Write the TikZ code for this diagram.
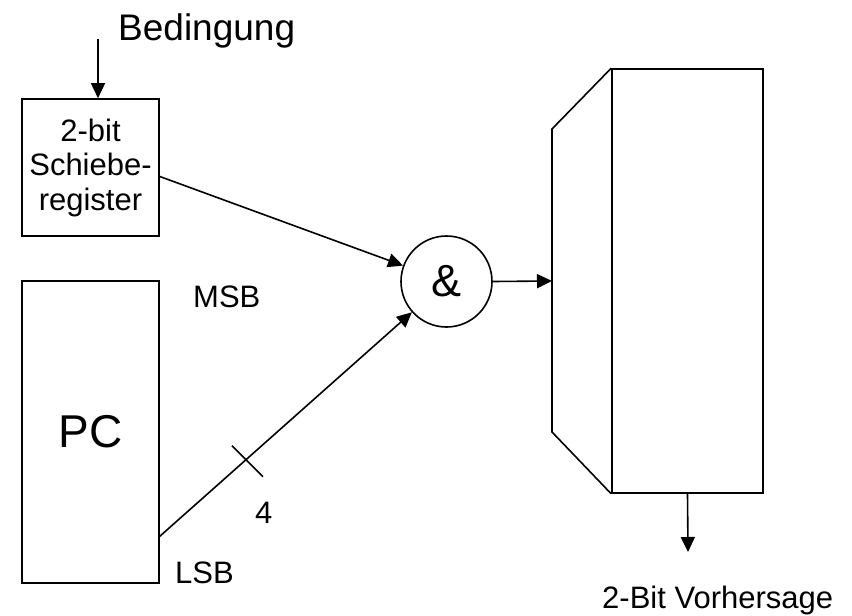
\documentclass[tikz,border=0pt]{standalone}
\usepackage{fontspec}
\setmainfont{Liberation Sans}
\usetikzlibrary{arrows.meta,calc}
\begin{document}
\begin{tikzpicture}[x=1pt,y=-1pt,
  ln/.style={line width=1.6pt},
  arr/.style={ln,-{Triangle[length=15pt,width=14pt]}},
  box/.style={draw,ln,rectangle,inner sep=0pt,align=center},
  lbl/.style={inner sep=0pt,anchor=base west}]
\useasboundingbox (0,0) rectangle (852,616);
% shift register
\node[box,minimum width=137pt,minimum height=137pt,font=\fontsize{31}{34.5}\selectfont] (sr) at (90.5,167.5) {2-bit\\Schiebe-\\register};
% PC
\node[box,minimum width=137pt,minimum height=302pt,font=\fontsize{46}{54}\selectfont] (pc) at (90.5,432) {PC};
% AND circle
\node[draw,ln,circle,minimum size=91pt,inner sep=0pt,font=\fontsize{45}{54}\selectfont] (and) at (446.5,281.5) {\&};
% mux
\node[draw,ln,rectangle,minimum width=151pt,minimum height=424pt,inner sep=0pt] (mux) at (687.5,281) {};
\draw[ln,line join=miter] (mux.north west) -- (552,129) -- (552,432) -- (mux.south west);
\coordinate (muxin) at (552,281);
% texts
\node[lbl,font=\fontsize{37}{44}\selectfont] (bed) at (118,40) {Bedingung};
\coordinate (cond) at (98,39);
\node[lbl,font=\fontsize{31}{37}\selectfont] (msb) at (193,307) {MSB};
\node[lbl,font=\fontsize{31}{37}\selectfont] (lsb) at (175,583) {LSB};
\node[lbl,font=\fontsize{31}{37}\selectfont] (four) at (255,523) {4};
\node[lbl,font=\fontsize{31}{37}\selectfont] (out) at (602,608) {2-Bit Vorhersage};
\coordinate (outend) at (688,552);
% connectors
\draw[arr] (cond) -- (cond |- sr.north);
\draw[arr] ([yshift=-9pt]sr.east) -- (and);
\coordinate (pcout) at (159,537);
\draw[arr] (pcout) -- coordinate[pos=0.344] (tk) (and);
\draw[ln] ([shift={(-14,-14)}]tk) -- ([shift={(17,17)}]tk);
\draw[arr] (and.east) -- (muxin);
\draw[arr] (mux.south) -- (outend);
\end{tikzpicture}
\end{document}
